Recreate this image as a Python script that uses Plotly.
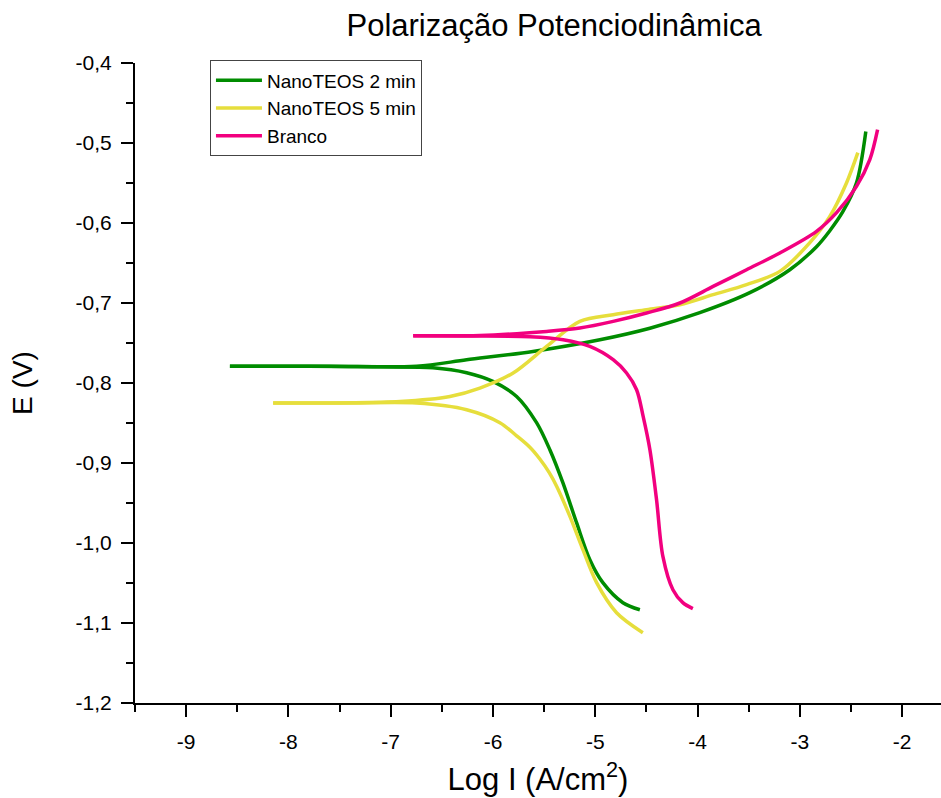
import plotly.graph_objects as go

# ---------------- data ----------------
# NanoTEOS 2 min  (cathodic branch from Ecorr tip downward, anodic branch from tip upward)
g_cat_x = [-8.572, -7.80, -7.10, -6.587, -6.258, -6.001, -5.769, -5.574, -5.444, -5.317, -5.183, -5.053, -4.926, -4.730, -4.564]
g_cat_y = [-0.7790, -0.7792, -0.7798, -0.7809, -0.7871, -0.7980, -0.8168, -0.8496, -0.8834, -0.9246, -0.9746, -1.0209, -1.0496, -1.0746, -1.0834]
g_an_x = [-8.572, -7.594, -6.747, -6.258, -5.610, -4.955, -4.466, -3.978, -3.489, -3.098, -2.837, -2.707, -2.580, -2.446, -2.355]
g_an_y = [-0.7790, -0.7792, -0.7790, -0.7710, -0.7605, -0.7459, -0.7315, -0.7121, -0.6871, -0.6584, -0.6296, -0.6096, -0.5859, -0.5496, -0.4855]

# NanoTEOS 5 min
y_cat_x = [-8.149, -7.40, -6.747, -6.258, -5.933, -5.769, -5.642, -5.542, -5.450, -5.378, -5.248, -5.121, -4.987, -4.792, -4.535]
y_cat_y = [-0.8250, -0.8250, -0.8250, -0.8334, -0.8496, -0.8660, -0.8800, -0.8950, -0.9120, -0.9290, -0.9668, -1.0084, -1.0496, -1.0871, -1.1121]
y_an_x = [-8.149, -6.910, -6.421, -6.128, -5.803, -5.476, -5.151, -4.825, -4.499, -4.173, -3.848, -3.521, -3.196, -2.902, -2.707, -2.543, -2.433]
y_an_y = [-0.8250, -0.8230, -0.8168, -0.8063, -0.7875, -0.7543, -0.7230, -0.7146, -0.7084, -0.7021, -0.6896, -0.6771, -0.6605, -0.6246, -0.5918, -0.5496, -0.5121]

# Branco
p_cat_x = [-6.780, -6.30, -5.639, -5.314, -5.053, -4.825, -4.694, -4.596, -4.532, -4.466, -4.401, -4.339, -4.241, -4.144, -4.046]
p_cat_y = [-0.7409, -0.7413, -0.7421, -0.7459, -0.7543, -0.7709, -0.7875, -0.8084, -0.8418, -0.8834, -0.9459, -1.0168, -1.0584, -1.0746, -1.0821]
p_an_x = [-6.780, -6.50, -6.128, -5.476, -5.151, -4.825, -4.499, -4.173, -3.848, -3.521, -3.196, -2.837, -2.641, -2.446, -2.316, -2.240]
p_an_y = [-0.7409, -0.7408, -0.7407, -0.7355, -0.7313, -0.7230, -0.7125, -0.7000, -0.6793, -0.6584, -0.6375, -0.6105, -0.5871, -0.5543, -0.5209, -0.4834]

series_names = ["NanoTEOS 2 min", "NanoTEOS 5 min", "Branco"]
series_colors = ["#008C00", "#E6DE3C", "#F2007F"]

x_tickvals = [-9, -8, -7, -6, -5, -4, -3, -2]
x_ticktext = ["-9", "-8", "-7", "-6", "-5", "-4", "-3", "-2"]
y_tickvals = [-1.2, -1.1, -1.0, -0.9, -0.8, -0.7, -0.6, -0.5, -0.4]
y_ticktext = ["-1,2", "-1,1", "-1,0", "-0,9", "-0,8", "-0,7", "-0,6", "-0,5", "-0,4"]

FONT = "Liberation Sans, Arial, sans-serif"

fig = go.Figure()
branches = [
    ((g_an_x, g_an_y), (g_cat_x, g_cat_y)),
    ((y_an_x, y_an_y), (y_cat_x, y_cat_y)),
    ((p_an_x, p_an_y), (p_cat_x, p_cat_y)),
]
for (an, cat), name, col in zip(branches, series_names, series_colors):
    fig.add_trace(go.Scatter(x=an[0], y=an[1], mode="lines", name=name, legendgroup=name,
                             line=dict(color=col, width=3.5, shape="spline", smoothing=0.9)))
    fig.add_trace(go.Scatter(x=cat[0], y=cat[1], mode="lines", name=name, legendgroup=name,
                             showlegend=False,
                             line=dict(color=col, width=3.5, shape="spline", smoothing=0.9)))

fig.update_layout(
    width=941, height=798,
    margin=dict(l=135, r=0, t=63, b=95),
    plot_bgcolor="white", paper_bgcolor="white",
    font=dict(family=FONT, color="black"),
    title=dict(text="Polarização Potenciodinâmica", x=0.52, xref="paper", xanchor="center",
               y=0.969, yref="container", yanchor="middle",
               font=dict(family=FONT, size=31, color="black")),
    legend=dict(x=0.093, y=1.004, xanchor="left", yanchor="top",
                bordercolor="#444", borderwidth=1, bgcolor="rgba(255,255,255,0)",
                font=dict(family=FONT, size=19, color="black"),
                tracegroupgap=0, itemwidth=46),
    showlegend=True,
)

fig.update_xaxes(
    range=[-9.5, -1.62], showgrid=False, zeroline=False,
    showline=True, linecolor="black", linewidth=2,
    tickmode="array", tickvals=x_tickvals, ticktext=x_ticktext,
    ticks="outside", ticklen=12, tickwidth=2, tickcolor="black",
    ticklabelstandoff=7,
    tickfont=dict(family=FONT, size=21, color="black"),
    minor=dict(tickmode="array", tickvals=[-9.5, -8.5, -7.5, -6.5, -5.5, -4.5, -3.5, -2.5],
               ticks="outside", ticklen=7, tickwidth=2, tickcolor="black"),
    title=dict(text="Log I (A/cm<sup>2</sup>)", font=dict(family=FONT, size=31, color="black"), standoff=16),
)
fig.update_yaxes(
    range=[-1.2, -0.4], showgrid=False, zeroline=False,
    showline=True, linecolor="black", linewidth=2,
    tickmode="array", tickvals=y_tickvals, ticktext=y_ticktext,
    ticks="outside", ticklen=12, tickwidth=2, tickcolor="black",
    ticklabelstandoff=5,
    tickfont=dict(family=FONT, size=21, color="black"),
    minor=dict(tickmode="array", tickvals=[-1.15, -1.05, -0.95, -0.85, -0.75, -0.65, -0.55, -0.45],
               ticks="outside", ticklen=7, tickwidth=2, tickcolor="black"),
    title=dict(text="E (V)", font=dict(family=FONT, size=28, color="black"), standoff=35),
)

fig.write_html("out.html")
